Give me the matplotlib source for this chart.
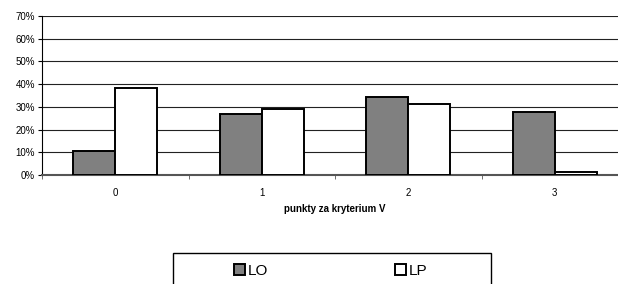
import numpy as np
import matplotlib.pyplot as plt
from matplotlib.patches import Rectangle
from matplotlib.ticker import PercentFormatter

plt.rcParams['font.family'] = ['Liberation Sans', 'DejaVu Sans']

categories = ['0', '1', '2', '3']
lo_values = [10.4, 27.0, 34.5, 27.7]
lp_values = [38.2, 29.2, 31.4, 1.2]

W, H = 618, 284
fig = plt.figure(figsize=(W / 100, H / 100), dpi=100)
# axes runs past the right edge of the picture, like the original
ax = fig.add_axes([42 / W, (H - 175) / H, (628 - 42) / W, (175 - 16) / H])

x = np.arange(len(categories))
bw = 0.287
ax.bar(x - bw / 2, lo_values, bw, color='#808080', edgecolor='black', linewidth=1.4, zorder=3, label='LO')
ax.bar(x + bw / 2, lp_values, bw, color='white', edgecolor='black', linewidth=1.4, zorder=3, label='LP')

ax.set_xlim(-0.5, len(categories) - 0.5)
ax.set_ylim(0, 70)
ax.set_yticks(np.arange(0, 71, 10))
ax.yaxis.set_major_formatter(PercentFormatter(decimals=0))
ax.grid(axis='y', color='#222222', linewidth=0.8, zorder=0)

ax.set_xticks(x)
ax.set_xticklabels(categories)
ax.set_xticks(np.arange(-0.5, len(categories)), minor=True)
ax.tick_params(axis='x', which='major', length=0, pad=9, labelsize=7)
ax.tick_params(axis='x', which='minor', length=3, direction='out', color='#555555')
ax.tick_params(axis='y', length=3, direction='out', labelsize=7, pad=2)
ax.set_xlabel('punkty za kryterium V', fontsize=7, fontweight='bold', labelpad=5)

for s in ['top', 'right']:
    ax.spines[s].set_visible(False)
ax.spines['left'].set_color('black')
ax.spines['bottom'].set_color('#555555')
ax.spines['bottom'].set_linewidth(1.5)

# legend box, cut off by the bottom of the picture
fig.patches.append(Rectangle((172.7 / W, -0.05), (490.7 - 172.7) / W, (H - 253.3) / H + 0.05,
                             transform=fig.transFigure, fill=False, edgecolor='black',
                             linewidth=1.0, clip_on=False))
fig.legend(loc='center', bbox_to_anchor=(331 / W, 1 - 271 / H), ncol=2, frameon=False,
           fontsize=11, handlelength=0.7, handleheight=0.7, handletextpad=0.2,
           columnspacing=8.3)

fig.savefig('out.png', dpi=100)
